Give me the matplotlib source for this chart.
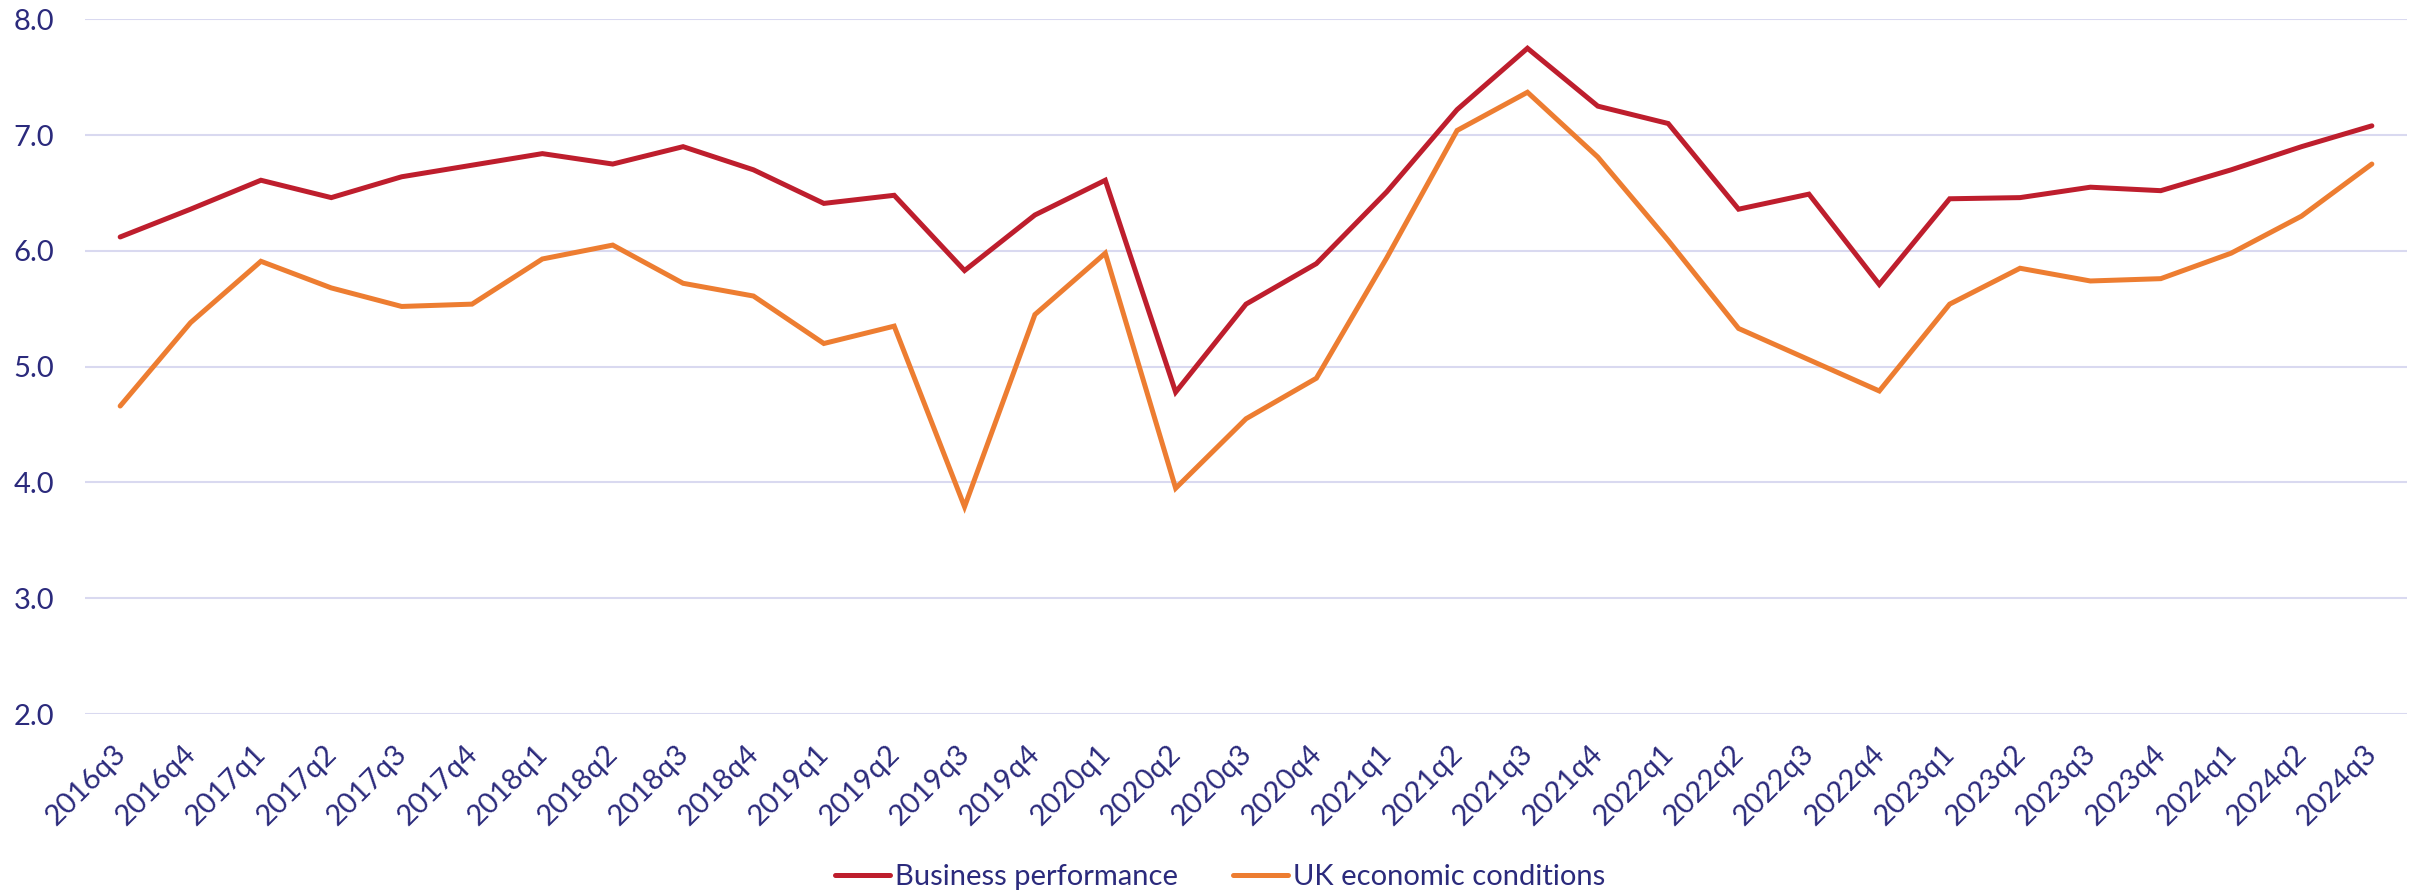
import matplotlib
matplotlib.use("Agg")
import matplotlib.pyplot as plt
import matplotlib.transforms as mtransforms
import numpy as np

quarters = ["2016q3", "2016q4", "2017q1", "2017q2", "2017q3", "2017q4",
            "2018q1", "2018q2", "2018q3", "2018q4", "2019q1", "2019q2",
            "2019q3", "2019q4", "2020q1", "2020q2", "2020q3", "2020q4",
            "2021q1", "2021q2", "2021q3", "2021q4", "2022q1", "2022q2",
            "2022q3", "2022q4", "2023q1", "2023q2", "2023q3", "2023q4",
            "2024q1", "2024q2", "2024q3"]

business_performance = [6.12, 6.36, 6.61, 6.46, 6.64, 6.74, 6.84, 6.75, 6.90, 6.70,
                        6.41, 6.48, 5.83, 6.31, 6.61, 4.78, 5.54, 5.89, 6.51, 7.22,
                        7.75, 7.25, 7.10, 6.36, 6.49, 5.71, 6.45, 6.46, 6.55, 6.52,
                        6.70, 6.90, 7.08]

uk_economic_conditions = [4.66, 5.38, 5.91, 5.68, 5.52, 5.54, 5.93, 6.05, 5.72, 5.61,
                          5.20, 5.35, 3.79, 5.45, 5.98, 3.95, 4.55, 4.90, 5.94, 7.04,
                          7.37, 6.81, 6.09, 5.33, 5.06, 4.79, 5.54, 5.85, 5.74, 5.76,
                          5.98, 6.30, 6.75]

y_ticks = [2.0, 3.0, 4.0, 5.0, 6.0, 7.0, 8.0]

plt.rcParams['font.family'] = ['Lato', 'DejaVu Sans']
text_color = "#2B2A7C"
fs = 21

fig = plt.figure(figsize=(24.12, 8.92), dpi=100)
ax = fig.add_axes([0.03524, 0.19955, 0.9627, 0.7788])

x = np.arange(len(quarters))
ax.plot(x, business_performance, color="#BE1E2D", lw=3.6, solid_capstyle="round",
        solid_joinstyle="miter", label="Business performance", zorder=3)
ax.plot(x, uk_economic_conditions, color="#ED7D31", lw=3.6, solid_capstyle="round",
        solid_joinstyle="miter", label="UK economic conditions", zorder=3)

ax.set_xlim(-0.5, len(quarters) - 0.5)
ax.set_ylim(2.0, 8.0)
ax.set_yticks(y_ticks)
ax.set_yticklabels([f"{v:.1f}" for v in y_ticks], fontsize=fs, color=text_color)
ax.set_xticks(x)
ax.set_xticklabels(quarters, rotation=45, ha="right", va="top", rotation_mode="anchor",
                   fontsize=fs, color=text_color)
ax.tick_params(axis="both", length=0)
ax.tick_params(axis="y", pad=22)
ax.tick_params(axis="x", pad=19)
offset = mtransforms.ScaledTranslation(-8 / 100, 0, fig.dpi_scale_trans)
for lab in ax.get_xticklabels():
    lab.set_transform(lab.get_transform() + offset)
ax.grid(axis="y", color="#D9D9F0", lw=1.5, zorder=0)
for s in ax.spines.values():
    s.set_visible(False)

leg = fig.legend(loc="lower center", bbox_to_anchor=(0.5058, -0.027), ncol=2, frameon=False,
                 fontsize=fs, handlelength=1.88, columnspacing=1.88, handletextpad=0.17)
for t in leg.get_texts():
    t.set_color(text_color)

fig.savefig("out.png", dpi=100)
